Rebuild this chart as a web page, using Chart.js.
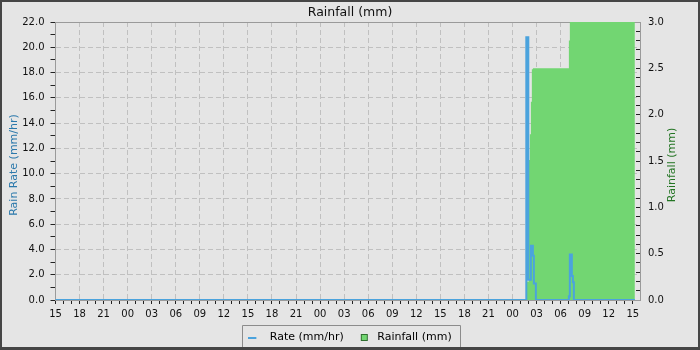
<!DOCTYPE html>
<html><head><meta charset="utf-8">
<script src="https://cdn.jsdelivr.net/npm/chart.js@4.4.1/dist/chart.umd.min.js"></script>
<style>html,body{margin:0;padding:0;background:#e5e5e5;} canvas{display:block;}</style>
</head><body>
<canvas id="c" width="700" height="350" style="width:700px;height:350px"></canvas>
<script>
const chartTitle = 'Rainfall (mm)';
const leftAxisTitle = 'Rain Rate (mm/hr)';
const rightAxisTitle = 'Rainfall (mm)';
const hourLabels = ['15','18','21','00','03','06','09','12','15','18','21','00','03','06','09','12','15','18','21','00','03','06','09','12','15'];
// time in hours after the first tick (15:00)
const rateHours  = [0, 58.72, 58.97, 59.29, 59.54, 59.66, 59.91, 64.03, 64.15, 64.40, 64.53, 64.65, 72.26];
const rateValues = [0, 20.8, 1.6, 4.3, 3.5, 1.3, 0, 0.3, 3.6, 1.9, 1.4, 0, 0];
const rainHours  = [0, 58.8, 59.04, 59.16, 59.29, 59.41, 59.54, 64.03, 64.15, 72.26];
const rainTotals = [0, 0.2, 1.51, 1.79, 2.14, 2.49, 2.5, 2.8, 3.0, 3.0];

const BLUE = '#4ba3dd', GREEN = '#72d672';
Chart.defaults.font.family = "'DejaVu Sans', sans-serif";

function makeSymbol(draw) {
  const c = document.createElement('canvas'); c.width = 16; c.height = 11;
  draw(c.getContext('2d')); return c;
}
const rateSym = makeSymbol(g => { g.fillStyle = BLUE; g.fillRect(0, 5, 8, 2); });
const rainSym = makeSymbol(g => { g.fillStyle = GREEN; g.fillRect(5, 2, 7, 7); g.strokeStyle = '#2f6e2f'; g.lineWidth = 1; g.strokeRect(5.5, 2.5, 6, 6); });

const decor = {
  id: 'decor',
  beforeDraw(chart) {
    const ctx = chart.ctx; ctx.save(); ctx.fillStyle = '#e5e5e5'; ctx.fillRect(0, 0, 700, 350); ctx.restore();
  },
  beforeDatasetsDraw(chart) {
    const {ctx, chartArea: a} = chart; ctx.save();
    ctx.strokeStyle = '#9a9a9a'; ctx.lineWidth = 1; ctx.beginPath();
    ctx.moveTo(a.left, Math.round(a.top) + 0.5); ctx.lineTo(a.right + 1, Math.round(a.top) + 0.5); ctx.stroke();
    ctx.restore();
  },
  afterDraw(chart) {
    const ctx = chart.ctx; ctx.save();
    ctx.font = "11px 'DejaVu Sans'"; ctx.textAlign = 'center'; ctx.textBaseline = 'middle';
    ctx.fillStyle = '#2a78ab'; ctx.translate(14.5, 165); ctx.rotate(-Math.PI / 2); ctx.fillText(leftAxisTitle, 0, 0);
    ctx.setTransform(1, 0, 0, 1, 0, 0);
    ctx.fillStyle = '#247524'; ctx.translate(672, 165); ctx.rotate(-Math.PI / 2); ctx.fillText(rightAxisTitle, 0, 0);
    ctx.setTransform(1, 0, 0, 1, 0, 0);
    const lg = chart.legend, hb = lg.legendHitBoxes;
    if (hb && hb.length) {
      const l = Math.round(hb[0].left) - 5.5;
      const r = Math.round(hb[hb.length - 1].left + hb[hb.length - 1].width) + 8.5;
      const t = Math.round(lg.top) + 5.5;
      ctx.strokeStyle = '#8c8c8c'; ctx.lineWidth = 1; ctx.beginPath();
      ctx.moveTo(l, 350); ctx.lineTo(l, t); ctx.lineTo(r, t); ctx.lineTo(r, 350); ctx.stroke();
    }
    ctx.fillStyle = '#454545';
    ctx.fillRect(0, 0, 700, 2); ctx.fillRect(0, 0, 2, 350); ctx.fillRect(698, 0, 2, 350); ctx.fillRect(0, 347, 700, 3);
    ctx.restore();
  }
};

new Chart(document.getElementById('c'), {
  type: 'line',
  data: {
    datasets: [
      { label: 'Rate (mm/hr)', data: rateHours.map((h, i) => ({x: h, y: rateValues[i]})), yAxisID: 'y',
        borderColor: BLUE, backgroundColor: BLUE, borderWidth: 2, pointRadius: 0, stepped: true, fill: false,
        clip: {left: 1, top: 2, right: 1, bottom: 0} },
      { label: 'Rainfall (mm)', data: rainHours.map((h, i) => ({x: h, y: rainTotals[i]})), yAxisID: 'y2',
        borderColor: 'rgba(0,0,0,0)', backgroundColor: GREEN, borderWidth: 0, pointRadius: 0, stepped: true, fill: 'origin',
        clip: 0 }
    ]
  },
  options: {
    responsive: false, animation: false, devicePixelRatio: 1,
    layout: { padding: {top: 0, left: 0, right: 0, bottom: -3} },
    plugins: {
      tooltip: {enabled: false},
      title: { display: true, text: chartTitle, color: '#111', font: {size: 12.5, weight: 'normal'}, padding: {top: 5, bottom: 2} },
      legend: {
        position: 'bottom',
        labels: {
          usePointStyle: true, pointStyleWidth: 16, boxHeight: 11, padding: 12, color: '#111', font: {size: 11},
          generateLabels: () => [
            {text: 'Rate (mm/hr)', fillStyle: BLUE, strokeStyle: BLUE, lineWidth: 0, pointStyle: rateSym, hidden: false, datasetIndex: 0},
            {text: 'Rainfall (mm)', fillStyle: GREEN, strokeStyle: '#2f6e2f', lineWidth: 1, pointStyle: rainSym, hidden: false, datasetIndex: 1}
          ]
        }
      }
    },
    scales: {
      x: {
        type: 'linear', position: 'bottom', min: 0, max: 72.9,
        afterBuildTicks: s => {
          const seen = new Set();
          s.ticks = s.ticks.map(t => ({value: Math.floor(t.value + 1e-6)}))
            .filter(t => { if (seen.has(t.value)) return false; seen.add(t.value); return true; });
        },
        afterFit: s => { s.height = 20; },
        ticks: { stepSize: 1, autoSkip: false, maxRotation: 0, minRotation: 0, padding: 4, color: '#111', font: {size: 10},
          callback: v => (v % 3 === 0 ? hourLabels[v / 3] : '') },
        grid: { color: c => (c.tick && c.tick.value % 3 === 0) ? '#c0c0c0' : 'rgba(0,0,0,0)', tickColor: '#222', tickLength: 4, lineWidth: 1 },
        border: { color: '#9a9a9a', dash: [5, 3] }
      },
      y: {
        type: 'linear', position: 'left', min: 0, max: 22,
        afterFit: s => { s.width = 55.5; },
        ticks: { stepSize: 1, autoSkip: false, padding: 6, color: '#111', font: {size: 10},
          callback: v => (v % 2 === 0 ? v.toFixed(1) : '') },
        grid: { color: c => (c.tick && c.tick.value % 2 === 0) ? '#c0c0c0' : 'rgba(0,0,0,0)', tickColor: '#222', tickLength: 5 },
        border: { color: '#9a9a9a', dash: [5, 3] }
      },
      y2: {
        type: 'linear', position: 'right', min: 0, max: 3,
        afterFit: s => { s.width = 60; },
        ticks: { stepSize: 0.1, autoSkip: false, padding: 12, color: '#111', font: {size: 10},
          callback: v => (Math.round(v * 10) % 5 === 0 ? v.toFixed(1) : '') },
        grid: { drawOnChartArea: false, tickColor: '#222', tickLength: -4 },
        border: { color: '#9a9a9a' }
      }
    }
  },
  plugins: [decor]
});
</script>
</body></html>
